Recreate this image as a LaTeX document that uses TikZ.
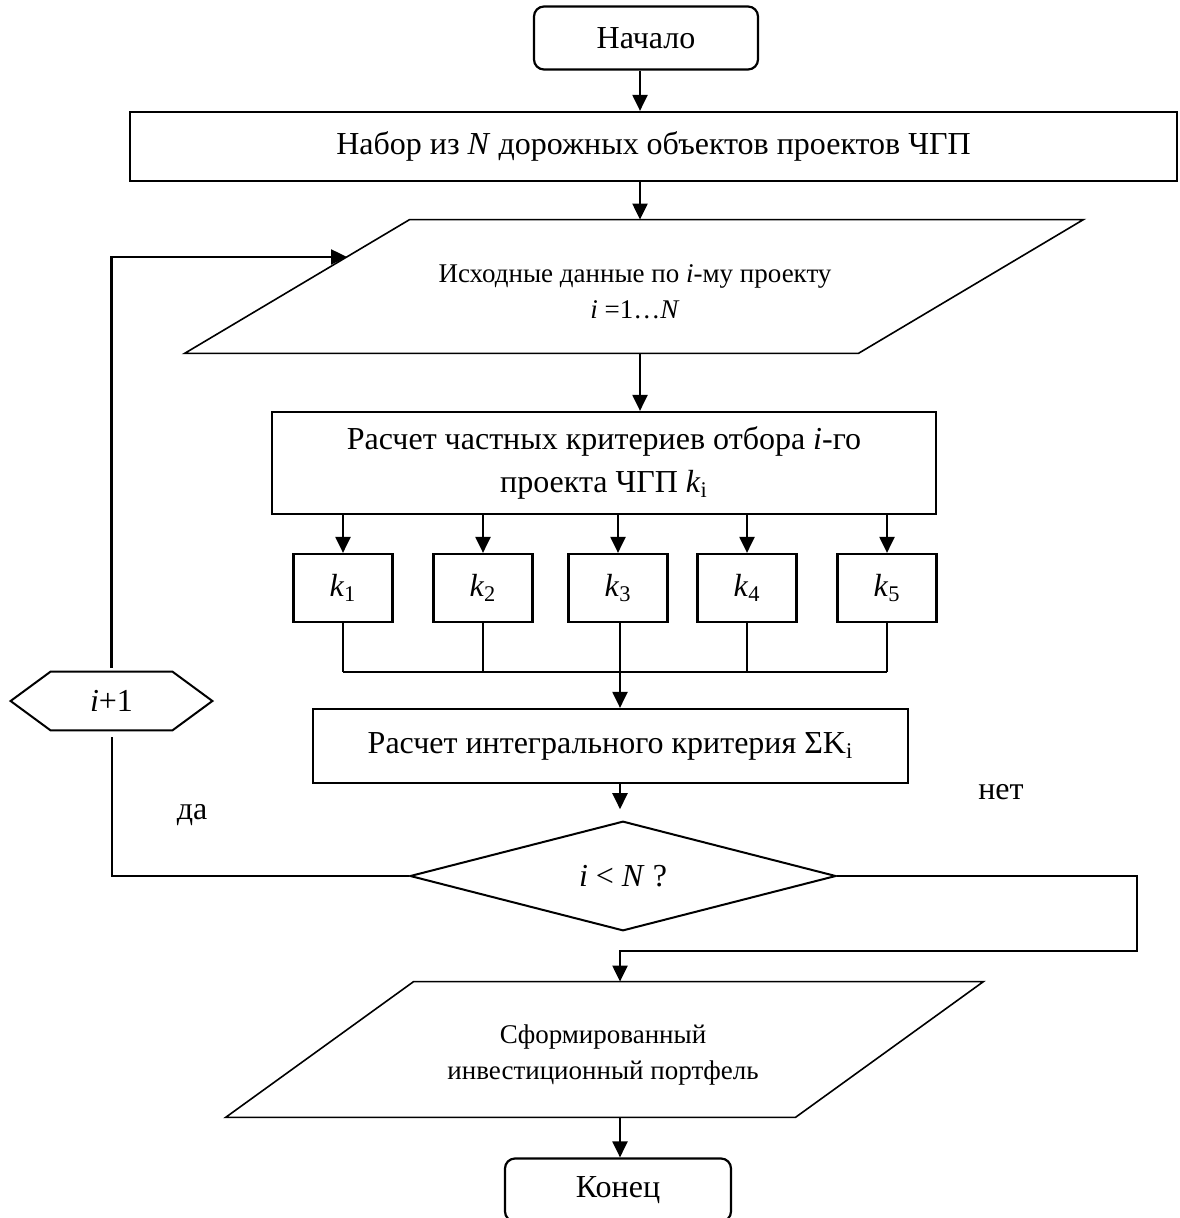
\documentclass[tikz,border=0pt]{standalone}
\usepackage{fontspec}
\setmainfont{Liberation Serif}
\usetikzlibrary{arrows.meta,shapes.geometric}
\begin{document}
\begin{tikzpicture}[x=0.5pt,y=-0.5pt,
  arr/.style={-{Triangle[length=8pt,width=7.5pt]}, line width=1.1pt},
  ln/.style={line width=1pt},
  box/.style={draw, line width=1.1pt, rectangle, inner sep=0pt, align=center, font=\fontsize{16}{21.5}\selectfont},
  term/.style={box, rounded corners=5pt},
  ghost/.style={rectangle, inner sep=0pt, align=center},
  para/.style={line width=0.8pt},
  small/.style={font=\fontsize{13.5}{18}\selectfont},
  lbl/.style={font=\fontsize{16}{19}\selectfont, inner sep=0pt}
]
\useasboundingbox (0,0) rectangle (1179,1218);

% nodes
\node[term, minimum width=112pt, minimum height=31.5pt] (start) at (646,38) {Начало};
\node[box, minimum width=523.5pt, minimum height=34.5pt] (nabor) at (653.5,146.5)
  {Набор из \textit{N} дорожных объектов проектов ЧГП};
\node[ghost, minimum width=336.5pt, minimum height=66.5pt] (p1) at (634,286.5) {};
\node[ghost, small] (p1t) at (635,292) {Исходные данные по \textit{i}-му проекту\\\textit{i} =1…\textit{N}};
\draw[para] ([xshift=56.25pt]p1.north west) -- ([xshift=56.25pt]p1.north east)
  -- ([xshift=-56.25pt]p1.south east) -- ([xshift=-56.25pt]p1.south west) -- cycle;
\node[box, minimum width=332pt, minimum height=51pt] (calc) at (604,463)
  {Расчет частных критериев отбора \textit{i}-го\\проекта ЧГП \textit{k}\textsubscript{i}};
\foreach \n/\x in {1/343,2/483,3/618,4/747,5/887}{
  \node[box, minimum width=49.5pt, minimum height=34pt] (k\n) at (\x,588) {\textit{k}\textsubscript{\n}};
}
\node[box, minimum width=297.5pt, minimum height=37pt] (integ) at (610.5,746)
  {Расчет интегрального критерия ΣK\textsubscript{i}};
\node[diamond, draw, line width=1pt, inner sep=0pt, minimum width=213pt, minimum height=43.5pt,
  font=\fontsize{16}{19}\selectfont] (dec) at (623,876) {\textit{i} < \textit{N} ?};
\node[ghost, minimum width=100.5pt, minimum height=29pt, font=\fontsize{16}{19}\selectfont] (inc) at (111.5,701) {\textit{i}+1};
\draw[line width=1pt] (inc.west) -- ([xshift=20pt]inc.north west) -- ([xshift=-20pt]inc.north east)
  -- (inc.east) -- ([xshift=-20pt]inc.south east) -- ([xshift=20pt]inc.south west) -- cycle;
\node[ghost, minimum width=284.5pt, minimum height=67.5pt] (p2) at (604.5,1049.5) {};
\node[ghost, small] (p2t) at (603,1055) {Сформированный\\инвестиционный портфель};
\draw[para] ([xshift=47pt]p2.north west) -- ([xshift=47pt]p2.north east)
  -- ([xshift=-47pt]p2.south east) -- ([xshift=-47pt]p2.south west) -- cycle;
\node[term, minimum width=113pt, minimum height=31.5pt] (fin) at (618,1190) {Конец};

\node[lbl] (yes) at (192,815) {да};
\node[lbl] (no) at (1001,792) {нет};

% helper coordinates
\coordinate (cx) at (640,0);
\coordinate (bus) at (0,672);
\coordinate (loopin) at (347,257);
\coordinate (rt) at (1137,951);
\coordinate (dx) at (620,0);

% connectors
\draw[arr] (start.south -| cx) -- (nabor.north -| cx);
\draw[arr] (nabor.south -| cx) -- (p1.north -| cx);
\draw[arr] (p1.south -| cx) -- (calc.north -| cx);
\foreach \n in {1,...,5}{
  \draw[arr] (calc.south -| k\n) -- (k\n.north);
}
\foreach \n in {1,2,4,5}{
  \draw[ln] (k\n.south) -- (k\n.south |- bus);
}
\draw[ln] (k1.south |- bus) -- (k5.south |- bus);
\draw[arr] (k3.south -| dx) -- (integ.north -| dx);
\draw[arr, shorten >=5.5pt] (integ.south -| dx) -- (dec.north -| dx);
\draw[ln] (dec.west) -- (dec.west -| inc) -- ([yshift=-3.5pt]inc.south);
\draw[arr, line width=1.2pt] ([yshift=2pt]inc.north) |- (loopin);
\draw[arr] (dec.east) -| (rt) -| (p2.north -| dx);
\draw[arr] (p2.south -| dx) -- (fin.north -| dx);
\end{tikzpicture}
\end{document}
